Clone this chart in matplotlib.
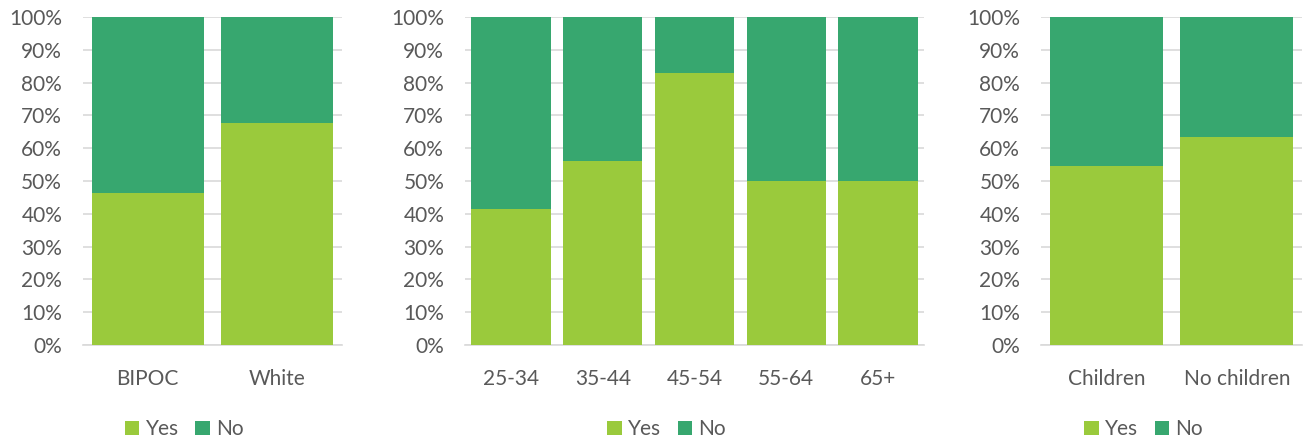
import matplotlib.pyplot as plt
from matplotlib.ticker import PercentFormatter

plt.rcParams['font.family'] = ['Lato', 'DejaVu Sans']

yes_color = '#9ACA3C'
no_color = '#37A76F'
text_color = '#595959'
grid_color = '#D9D9D9'

# share answering "Yes" in each group (percent)
race_labels = ['BIPOC', 'White']
race_yes = [46.3, 67.8]

age_labels = ['25-34', '35-44', '45-54', '55-64', '65+']
age_yes = [41.6, 56.0, 83.0, 50.0, 50.0]

kids_labels = ['Children', 'No children']
kids_yes = [54.6, 63.5]

panels = [
    (race_labels, race_yes, [0.0635, 0.2159, 0.198, 0.7455], 0.141),
    (age_labels, age_yes, [0.3558, 0.2159, 0.3512, 0.7455], 0.510),
    (kids_labels, kids_yes, [0.7965, 0.2159, 0.1997, 0.7455], 0.875),
]

fig = plt.figure(figsize=(13.07, 4.4), dpi=100)

for labels, yes, rect, legend_x in panels:
    ax = fig.add_axes(rect)
    no = [100 - v for v in yes]
    x = range(len(labels))
    ax.bar(x, yes, width=0.865, color=yes_color, label='Yes', zorder=3)
    ax.bar(x, no, width=0.865, bottom=yes, color=no_color, label='No', zorder=3)

    ax.set_xlim(-0.5, len(labels) - 0.5)
    ax.set_ylim(0, 100)
    ax.set_yticks(range(0, 101, 10))
    ax.yaxis.set_major_formatter(PercentFormatter(decimals=0))
    ax.set_xticks(list(x))
    ax.set_xticklabels(labels)

    ax.grid(axis='y', color=grid_color, linewidth=1.2, zorder=0)
    for side in ['top', 'right', 'left']:
        ax.spines[side].set_visible(False)
    ax.spines['bottom'].set_color(grid_color)
    ax.spines['bottom'].set_linewidth(1.2)
    ax.tick_params(axis='both', length=0, labelsize=15, labelcolor=text_color)
    ax.tick_params(axis='y', pad=15)
    ax.tick_params(axis='x', pad=17)

    ax.legend(loc='center', bbox_to_anchor=(legend_x, 0.024),
              bbox_transform=fig.transFigure, ncol=2, frameon=False,
              fontsize=15, labelcolor=text_color, handlelength=0.7,
              handleheight=0.7, handletextpad=0.3, columnspacing=0.8)

fig.savefig('out.png', dpi=100)
